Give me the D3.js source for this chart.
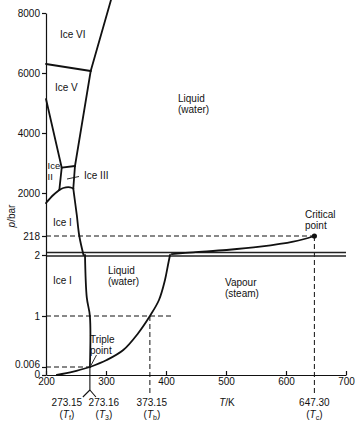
<!DOCTYPE html>
<html>
<head>
<meta charset="utf-8">
<script src="https://cdn.jsdelivr.net/npm/d3@7"></script>
<style>
  html, body { margin: 0; padding: 0; background: #fff; }
  svg { display: block; font-family: "Liberation Sans", Arial, Helvetica, sans-serif; }
  text { fill: #111; }
</style>
</head>
<body>
<svg id="chart" width="355" height="421"></svg>
<script>
// Temperature (K) and pressure (bar) ticks
const tempTicks = [200, 300, 400, 500, 600, 700];
const pressureTicks = [0, 0.006, 1, 2, 218, 2000, 4000, 6000, 8000];
const pressureTickLabels = ["0", "0.006", "1", "2", "218", "2000", "4000", "6000", "8000"];

// Phase boundaries, each as [T (K), p (bar)]
const iceVI_liquid  = [[274.5, 6067], [308.3, 8433]];
const iceVI_iceV    = [[200, 6300], [274.5, 6067]];
const iceV_liquid   = [[248.3, 2900], [274.5, 6067]];
const iceII_iceV    = [[200, 5133], [226.2, 2843]];
const iceIII_iceV   = [[226.2, 2843], [248.3, 2900]];
const iceII_iceIII  = [[226.2, 2843], [222.2, 2100]];
const iceIII_liquid = [[248.3, 2900], [245.5, 2150]];
const iceI_iceIII   = [[222.2, 2100], [228.8, 2167], [240, 2190], [245.5, 2150]];
const iceI_iceII    = [[200, 1586], [212.2, 1917], [222.2, 2100]];
const meltingHigh   = [[245.5, 2150], [248, 1710], [251.3, 1089], [255.5, 218], [262.5, 2]];
const meltingLow    = [[265, 2], [268, 1.3], [273.15, 1], [273.16, 0.006]];
const sublimation   = [[218, 0], [245.5, 0.0025], [273.16, 0.006]];
const vapourLow     = [[273.16, 0.006], [301.2, 0.142], [328.8, 0.337], [353.3, 0.66], [373.15, 1],
                       [388.3, 1.262], [398.3, 1.59], [403.3, 1.836], [406.7, 2]];
const vapourHigh    = [[409.4, 13], [445.5, 33], [501, 59], [556.7, 96], [612, 153], [647.3, 218]];

// Characteristic points
const tripleT = 273.16, tripleP = 0.006;
const freezeT = 273.15, boilT = 373.15, boilP = 1;
const critT = 647.30, critP = 218;

const svg = d3.select("#chart");

const x = d3.scaleLinear().domain([200, 700]).range([46, 346]);
// broken pressure axis: piecewise-linear segments
const y = d3.scaleLinear()
  .domain([0, 0.006, 1, 2, 218, 2000, 8000])
  .range([375, 367, 316, 255, 236, 193, 13]);

const line = d3.line().x(d => x(d[0])).y(d => y(d[1])).curve(d3.curveCatmullRom.alpha(0.5));

// Dashed guide lines
const guides = svg.append("g")
  .attr("stroke", "#111").attr("stroke-width", 1).attr("stroke-dasharray", "5,3").attr("fill", "none");
guides.append("line").attr("x1", x(200)).attr("x2", x(critT)).attr("y1", y(critP)).attr("y2", y(critP));
guides.append("line").attr("x1", x(200)).attr("x2", x(410)).attr("y1", y(boilP)).attr("y2", y(boilP));
guides.append("line").attr("x1", x(200)).attr("x2", x(tripleT)).attr("y1", y(tripleP)).attr("y2", y(tripleP));
guides.append("line").attr("x1", x(boilT)).attr("x2", x(boilT)).attr("y1", y(boilP)).attr("y2", y(0) + 18);
guides.append("line").attr("x1", x(critT)).attr("x2", x(critT)).attr("y1", y(critP)).attr("y2", y(0) + 20);

// Axis break: double line at 2 bar
const brk = svg.append("g").attr("stroke", "#222").attr("stroke-width", 1.3);
brk.append("line").attr("x1", x(200)).attr("x2", x(700)).attr("y1", y(2) - 2.5).attr("y2", y(2) - 2.5);
brk.append("line").attr("x1", x(200)).attr("x2", x(700)).attr("y1", y(2) + 1).attr("y2", y(2) + 1);

// Axes
const yAxis = d3.axisLeft(y).tickValues(pressureTicks)
  .tickFormat((d, i) => pressureTickLabels[i]).tickSizeInner(4).tickSizeOuter(0).tickPadding(2);
const gy = svg.append("g").attr("transform", `translate(${x(200)},0)`).call(yAxis);
const xAxis = d3.axisBottom(x).tickValues(tempTicks).tickSizeInner(-4).tickSizeOuter(0).tickPadding(3);
const gx = svg.append("g").attr("transform", `translate(0,${y(0)})`).call(xAxis);
[gx, gy].forEach(g => {
  g.selectAll("path, line").attr("stroke", "#111").attr("stroke-width", 1.2);
  g.selectAll("text").attr("font-size", 10).attr("fill", "#111")
    .attr("font-family", "'Liberation Sans', Arial, sans-serif");
});
// the two lowest pressure labels sit very close: spread them apart slightly
gy.selectAll(".tick text").attr("dy", d => d === 0 ? "0.2em" : d === 0.006 ? "0.1em" : "0.32em");
gy.selectAll(".tick text").filter(d => d === 0.006).attr("y", -1);

// Phase boundary curves
const curves = [iceVI_liquid, iceVI_iceV, iceV_liquid, iceII_iceV, iceIII_iceV, iceII_iceIII,
  iceIII_liquid, iceI_iceIII, iceI_iceII, meltingHigh, meltingLow, sublimation, vapourLow, vapourHigh];
svg.append("g").selectAll("path").data(curves).join("path")
  .attr("d", line).attr("fill", "none").attr("stroke", "#111")
  .attr("stroke-width", 1.8).attr("stroke-linejoin", "round").attr("stroke-linecap", "round");

// Critical point
svg.append("circle").attr("cx", x(critT)).attr("cy", y(critP)).attr("r", 2.6).attr("fill", "#111");

// Forked marker for the two close temperatures
const fx = x(freezeT), fy0 = y(tripleP), fy1 = y(0) + 15;
const fork = svg.append("g").attr("stroke", "#111").attr("stroke-width", 1.1).attr("fill", "none");
fork.append("line").attr("x1", fx).attr("x2", fx).attr("y1", fy0).attr("y2", fy1);
fork.append("line").attr("x1", fx).attr("x2", fx - 7).attr("y1", fy1).attr("y2", fy1 + 7);
fork.append("line").attr("x1", fx).attr("x2", fx + 6).attr("y1", fy1).attr("y2", fy1 + 7);

// Region and point labels
const labels = svg.append("g").attr("font-size", 10);
function multi(xp, yp, lines, anchor, size) {
  const t = labels.append("text").attr("x", xp).attr("y", yp).attr("text-anchor", anchor || "start");
  if (size) t.attr("font-size", size);
  lines.forEach((s, i) => t.append("tspan").attr("x", xp).attr("dy", i ? 11 : 0).text(s));
  return t;
}
multi(60, 38, ["Ice VI"]);
multi(55, 91, ["Ice V"]);
multi(178, 102, ["Liquid", "(water)"]);
multi(47.5, 169, ["Ice", "II"], "start", 9.5);
multi(84, 179, ["Ice III"]);
multi(53, 226, ["Ice I"]);
multi(53, 284, ["Ice I"]);
multi(108, 274, ["Liquid", "(water)"]);
multi(225, 286, ["Vapour", "(steam)"]);
multi(305, 218, ["Critical", "point"]);
multi(90, 343, ["Triple", "point"]);

// leader lines
const lead = svg.append("g").attr("stroke", "#111").attr("stroke-width", 0.9);
lead.append("line").attr("x1", 67).attr("y1", 179).attr("x2", 79).attr("y2", 176.5);
lead.append("line").attr("x1", 96.5).attr("y1", 355).attr("x2", x(tripleT) + 1).attr("y2", y(tripleP) - 1.5);

// Axis titles
const yt = svg.append("text").attr("transform", "translate(15,216) rotate(-90)")
  .attr("text-anchor", "middle").attr("font-size", 10);
yt.append("tspan").attr("font-style", "italic").text("p");
yt.append("tspan").text("/bar");
const xt = svg.append("text").attr("x", 227).attr("y", 406).attr("text-anchor", "middle").attr("font-size", 10);
xt.append("tspan").attr("font-style", "italic").text("T");
xt.append("tspan").text("/K");

// Named temperatures under the axis
const named = [
  { v: "273.15", sub: "f", cx: x(freezeT) - 23 },
  { v: "273.16", sub: "3", cx: x(tripleT) + 14 },
  { v: "373.15", sub: "b", cx: x(boilT) + 2 },
  { v: "647.30", sub: "c", cx: x(critT) }
];
named.forEach(n => {
  labels.append("text").attr("x", n.cx).attr("y", 406).attr("text-anchor", "middle").text(n.v);
  const t = labels.append("text").attr("x", n.cx).attr("y", 418).attr("text-anchor", "middle");
  t.append("tspan").text("(");
  t.append("tspan").attr("font-style", "italic").text("T");
  t.append("tspan").attr("font-size", 7).attr("dy", 2).text(n.sub);
  t.append("tspan").attr("dy", -2).text(")");
});
</script>
</body>
</html>
